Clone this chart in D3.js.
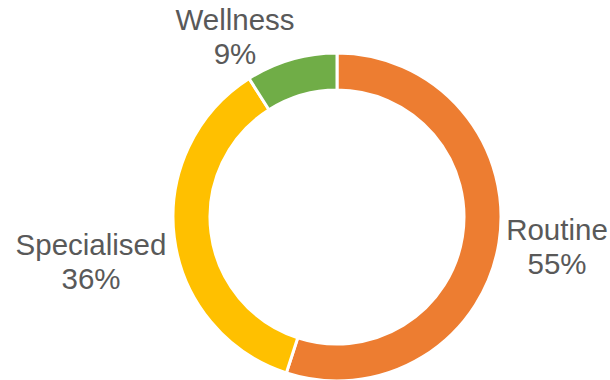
<!DOCTYPE html>
<html><head><meta charset="utf-8">
<script src="https://cdn.jsdelivr.net/npm/d3@7"></script>
<style>html,body{margin:0;padding:0;background:#fff;overflow:hidden}</style>
</head><body>
<svg id="c" width="610" height="380"></svg>
<script>
const categories = ["Routine", "Specialised", "Wellness"];
const values = [55, 36, 9];
const labels = ["55%", "36%", "9%"];
const colors = ["#ED7D31", "#FFC000", "#70AD47"];

const svg = d3.select("#c");
const cx = 337, cy = 217, rOuter = 164, rInner = 127;
const g = svg.append("g").attr("transform", `translate(${cx},${cy})`);
const pie = d3.pie().sort(null).value(d => d)(values);
const arc = d3.arc().innerRadius(rInner).outerRadius(rOuter);
g.selectAll("path").data(pie).join("path")
  .attr("d", arc)
  .attr("fill", (d, i) => colors[i])
  .attr("stroke", "#fff").attr("stroke-width", 3).attr("stroke-linejoin", "miter");

// label anchor placement (layout, not data)
const labelPos = [[557, 240], [91, 255], [235, 30]];
const lineH = 33.5;
categories.forEach((c, i) => {
  const t = svg.append("text")
    .attr("x", labelPos[i][0]).attr("y", labelPos[i][1])
    .attr("text-anchor", "middle")
    .attr("font-family", "'Liberation Sans', Arial, sans-serif")
    .attr("font-size", 29.5).attr("fill", "#595959");
  t.append("tspan").attr("x", labelPos[i][0]).text(c);
  t.append("tspan").attr("x", labelPos[i][0]).attr("dy", lineH).text(labels[i]);
});
</script>
</body></html>
